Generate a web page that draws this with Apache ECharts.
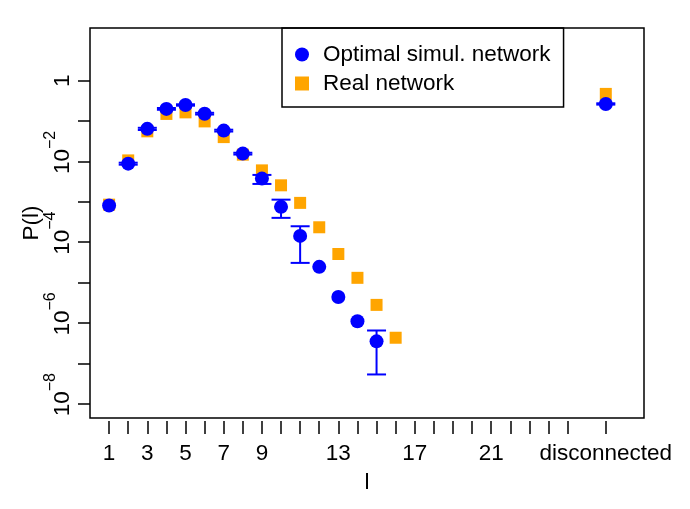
<!DOCTYPE html>
<html>
<head>
<meta charset="utf-8">
<script src="https://cdn.jsdelivr.net/npm/echarts@6/dist/echarts.min.js"></script>
<style>
  html, body { margin: 0; padding: 0; background: #fff; }
  #chart { width: 690px; height: 509px; }
</style>
</head>
<body>
<div id="chart"></div>
<script>
// path length l, "disconnected" sits at position 27
var DISCONNECTED = 27;
var simLen = [1, 2, 3, 4, 5, 6, 7, 8, 9, 10, 11, 12, 13, 14, 15, 27];
var simP = [8.1e-4, 8.8e-3, 0.064, 0.20, 0.25, 0.152, 0.058, 0.0156, 3.75e-3, 7.5e-4, 1.43e-4, 2.45e-5, 4.4e-6, 1.1e-6, 3.5e-7, 0.265];
// error bar ends (null = no bar drawn)
var simLow = [null, 8.3e-3, 0.060, 0.19, 0.24, 0.145, 0.055, 0.0148, 2.77e-3, 4.0e-4, 3.07e-5, null, null, null, 5.3e-8, 0.255];
var simHigh = [null, 9.3e-3, 0.068, 0.21, 0.26, 0.16, 0.061, 0.0164, 4.63e-3, 1.13e-3, 2.48e-4, null, null, null, 6.5e-7, 0.275];

var realLen = [1, 2, 3, 4, 5, 6, 7, 8, 9, 10, 11, 12, 13, 14, 15, 16, 27];
var realP = [8.5e-4, 0.0106, 0.0556, 0.150, 0.164, 0.098, 0.040, 0.0147, 6.0e-3, 2.56e-3, 9.4e-4, 2.34e-4, 5.1e-5, 1.31e-5, 2.8e-6, 4.3e-7, 0.47];

var xTicks = [1, 2, 3, 4, 5, 6, 7, 8, 9, 10, 11, 12, 13, 14, 15, 16, 17, 18, 19, 20, 21, 22, 23, 24, 25, 27];
var xLabels = [1, 3, 5, 7, 9, 13, 17, 21, 27];
var yTicks = [1e-8, 1e-7, 1e-6, 1e-5, 1e-4, 1e-3, 1e-2, 1e-1, 1];
var yLabels = [1e-8, 1e-6, 1e-4, 1e-2, 1];

var FONT = "Liberation Sans";
var FS = 22.5;

var simData = simLen.map(function (l, i) { return [l, simP[i]]; });
var realData = realLen.map(function (l, i) { return [l, realP[i]]; });
var barData = [];
simLen.forEach(function (l, i) {
  if (simLow[i] != null) barData.push([l, simLow[i], simHigh[i]]);
});

var myChart = echarts.init(document.getElementById("chart"));
var option = {
  animation: false,
  textStyle: { fontFamily: FONT },
  grid: { left: 90, right: 46, top: 28, bottom: 91, show: true, borderColor: "#000", borderWidth: 1.5 },
  legend: {
    left: 282,
    top: 28,
    orient: "vertical",
    borderColor: "#000",
    borderWidth: 1.5,
    padding: [15, 13, 12, 13],
    itemGap: 6,
    itemWidth: 32,
    itemHeight: 14,
    textStyle: { fontSize: FS, color: "#000", fontFamily: FONT },
    data: [
      { name: "Optimal simul. network", icon: "circle" },
      { name: "Real network", icon: "path://M0,0h1v1h-1z" },
    ],
  },
  xAxis: {
    type: "value",
    min: 0,
    max: 29,
    offset: 3,
    name: "l",
    nameLocation: "middle",
    nameGap: 50,
    nameMoveOverlap: false,
    nameTextStyle: { fontSize: FS, color: "#000", fontFamily: FONT },
    axisLine: { show: false },
    splitLine: { show: false },
    axisTick: { show: true, length: 13, customValues: xTicks, lineStyle: { color: "#000", width: 1.5 } },
    axisLabel: {
      customValues: xLabels,
      fontSize: FS,
      color: "#000",
      margin: 21,
      fontFamily: FONT,
      formatter: function (v) { return v == DISCONNECTED ? "disconnected" : String(v); },
    },
  },
  yAxis: {
    type: "log",
    logBase: 10,
    min: Math.pow(10, -8.354),
    max: Math.pow(10, 1.304),
    offset: 2,
    name: "P(l)",
    nameLocation: "middle",
    nameGap: 45,
    nameMoveOverlap: false,
    nameTextStyle: { fontSize: FS, color: "#000", fontFamily: FONT },
    axisLine: { show: false },
    splitLine: { show: false },
    minorTick: { show: false },
    axisTick: { show: true, length: 12, customValues: yTicks, lineStyle: { color: "#000", width: 1.5 } },
    axisLabel: {
      customValues: yLabels,
      rotate: 90,
      margin: 14,
      color: "#000",
      fontSize: FS,
      fontFamily: FONT,
      formatter: function (v) {
        var e = Math.round(Math.log10(v));
        if (e === 0) return "1";
        return "{b|10}{s|\u2212" + Math.abs(e) + "}";
      },
      rich: {
        b: { fontSize: FS, fontFamily: FONT, color: "#000", verticalAlign: "bottom", padding: [8, 0, 0, 18] },
        s: { fontSize: 16, fontFamily: FONT, color: "#000", verticalAlign: "top" },
      },
    },
  },
  series: [
    {
      name: "Real network",
      type: "scatter",
      symbol: "rect",
      symbolSize: 12,
      itemStyle: { color: "#ffa500", opacity: 1 },
      data: realData,
      z: 2,
    },
    {
      name: "errbar",
      type: "custom",
      data: barData,
      encode: { x: 0, y: [1, 2] },
      z: 3,
      renderItem: function (params, api) {
        var x = api.value(0);
        var top = api.coord([x, api.value(2)]);
        var bot = api.coord([x, api.value(1)]);
        var w = 9.5;
        var st = { stroke: "#0000ff", lineWidth: 2 };
        return {
          type: "group",
          children: [
            { type: "line", shape: { x1: top[0], y1: top[1], x2: bot[0], y2: bot[1] }, style: st },
            { type: "line", shape: { x1: top[0] - w, y1: top[1], x2: top[0] + w, y2: top[1] }, style: st },
            { type: "line", shape: { x1: bot[0] - w, y1: bot[1], x2: bot[0] + w, y2: bot[1] }, style: st },
          ],
        };
      },
    },
    {
      name: "Optimal simul. network",
      type: "scatter",
      symbol: "circle",
      symbolSize: 14,
      itemStyle: { color: "#0000ff", opacity: 1 },
      data: simData,
      z: 4,
    },
  ],
};
myChart.setOption(option);
</script>
</body>
</html>
